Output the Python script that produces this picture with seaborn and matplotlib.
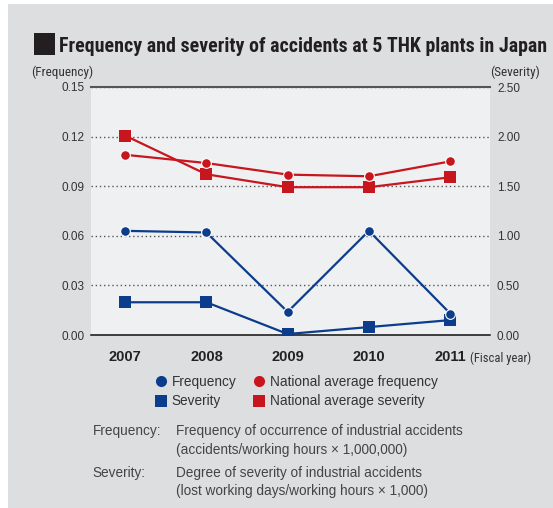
import numpy as np
import pandas as pd
import matplotlib
matplotlib.use("Agg")
import matplotlib.pyplot as plt
import seaborn as sns
from matplotlib import font_manager as fm
from matplotlib.lines import Line2D
from matplotlib.patches import Rectangle

# ---------------- data ----------------
years = [2007, 2008, 2009, 2010, 2011]
year_labels = ["2007", "2008", "2009", "2010", "2011"]
frequency = [0.063, 0.062, 0.014, 0.063, 0.013]
national_frequency = [0.109, 0.104, 0.097, 0.096, 0.105]
severity = [0.33, 0.33, 0.01, 0.08, 0.15]
national_severity = [2.01, 1.62, 1.49, 1.49, 1.59]
freq_ticks = [0.00, 0.03, 0.06, 0.09, 0.12, 0.15]
sev_ticks = [0.00, 0.50, 1.00, 1.50, 2.00, 2.50]
legend_labels = ["Frequency", "Severity", "National average frequency", "National average severity"]
title = "Frequency and severity of accidents at 5 THK plants in Japan"
notes = [
    ("Frequency:", "Frequency of occurrence of industrial accidents", "(accidents/working hours \u00d7 1,000,000)"),
    ("Severity:", "Degree of severity of industrial accidents", "(lost working days/working hours \u00d7 1,000)"),
]

# ---------------- style ----------------
BLUE = "#0b3d8c"
RED = "#c8161e"
OUTER = "#dddee0"
INNER = "#eff0f2"
TXT = "#333333"

names = {f.name for f in fm.fontManager.ttflist}
def pick(cands):
    for c in cands:
        if c in names:
            return c
    return "Liberation Sans"
COND = pick(["Liberation Sans Narrow", "DejaVu Sans Condensed", "Roboto Condensed",
             "Open Sans Condensed", "Liberation Sans"])
SANS = pick(["Liberation Sans", "DejaVu Sans"])

sns.set_style("white")
plt.rcParams["font.family"] = [SANS, "DejaVu Sans"]

W, H = 553, 508
fig = plt.figure(figsize=(W / 100, H / 100), dpi=100, facecolor="white")
def fx(px):
    return px / W
def fy(py):
    return 1 - py / H

fig.patches.append(Rectangle((fx(8), 0), 1 - fx(8), fy(4), transform=fig.transFigure,
                             facecolor=OUTER, edgecolor="none", zorder=-10))
fig.patches.append(Rectangle((fx(34), fy(55)), fx(55) - fx(34), fy(33) - fy(55),
                             transform=fig.transFigure, facecolor="#231f20",
                             edgecolor="none", zorder=1))

ax_sev = fig.add_axes([fx(91), fy(335), fx(490) - fx(91), fy(87) - fy(335)])
ax_sev.set_facecolor(INNER)
ax_f = ax_sev.twinx()
ax_sev.yaxis.tick_right()
ax_f.yaxis.tick_left()

# gridlines on the bottom axis
ax_sev.set_ylim(0, 2.5)
ax_sev.set_yticks(sev_ticks, [f"{v:.2f}" for v in sev_ticks])
ax_sev.grid(axis="y", color="#555555", linestyle=(0, (1, 2)), linewidth=1.0)
ax_sev.grid(axis="x", visible=False)
ax_sev.set_axisbelow(True)

# severity series (right axis)
sns.lineplot(x=years, y=national_severity, ax=ax_sev, color=RED, marker="s",
             markersize=8.8, linewidth=1.6, markeredgewidth=0, zorder=3)
sns.lineplot(x=years, y=severity, ax=ax_sev, color=BLUE, marker="s",
             markersize=8.8, linewidth=1.6, markeredgewidth=0, zorder=3)

# frequency series (left axis)
ax_f.set_ylim(0, 0.15)
ax_f.set_yticks(freq_ticks, [f"{v:.2f}" for v in freq_ticks])
sns.lineplot(x=years, y=national_frequency, ax=ax_f, color=RED, marker="o",
             markersize=7.0, linewidth=1.6, markeredgecolor="white",
             markeredgewidth=0.8, zorder=3)
sns.lineplot(x=years, y=frequency, ax=ax_f, color=BLUE, marker="o",
             markersize=7.0, linewidth=1.6, markeredgecolor="white",
             markeredgewidth=0.8, zorder=3)
ax_f.grid(False)

ax_sev.set_xlim(2007 - 0.42, 2011 + 0.49)
ax_sev.set_xticks(years, year_labels)

for a in (ax_sev, ax_f):
    a.set_xlabel("")
    a.set_ylabel("")
    a.spines["left"].set_visible(False)
    a.spines["right"].set_visible(False)
for s in ("top", "bottom"):
    ax_f.spines[s].set_visible(False)
ax_sev.spines["top"].set_color("#555555")
ax_sev.spines["top"].set_linewidth(1.5)
ax_sev.spines["bottom"].set_color("#111111")
ax_sev.spines["bottom"].set_linewidth(1.1)
for s in ("top", "bottom"):
    ax_sev.spines[s].set_zorder(1)

ax_sev.tick_params(axis="y", length=0, pad=5, labelsize=8.5, labelcolor=TXT)
ax_f.tick_params(axis="y", length=0, pad=4.5, labelsize=8.5, labelcolor=TXT)
ax_sev.tick_params(axis="x", length=0, pad=11, labelsize=10.5, labelcolor="#222222")
for lab in ax_sev.get_xticklabels():
    lab.set_fontweight("bold")

# legend
handles = [
    Line2D([], [], linestyle="none", marker="o", markersize=8, color=BLUE, markeredgewidth=0),
    Line2D([], [], linestyle="none", marker="s", markersize=9, color=BLUE, markeredgewidth=0),
    Line2D([], [], linestyle="none", marker="o", markersize=8, color=RED, markeredgewidth=0),
    Line2D([], [], linestyle="none", marker="s", markersize=9, color=RED, markeredgewidth=0),
]
fig.legend(handles, legend_labels, ncol=2, loc="upper left",
           bbox_to_anchor=(fx(154), fy(375)), frameon=False, fontsize=9.8,
           handlelength=1.0, handletextpad=0.3, columnspacing=1.13,
           labelspacing=0.4, borderpad=0, borderaxespad=0, labelcolor=TXT)

# notes
note_rows = [431.5, 450, 473, 491.5]
for i, (head, l1, l2) in enumerate(notes):
    fig.text(fx(92.5), fy(note_rows[2 * i]), head, fontsize=9.8, color="#444444", va="center")
    fig.text(fx(175.5), fy(note_rows[2 * i]), l1, fontsize=9.8, color="#444444", va="center")
    fig.text(fx(175.5), fy(note_rows[2 * i + 1]), l2, fontsize=9.8, color="#444444", va="center")

# condensed texts
t_title = fig.text(fx(59), fy(52), title, family=COND, fontweight="bold", fontsize=19,
                   color="#231f20", va="baseline", ha="left")
t_fl = fig.text(fx(31), fy(72), "(Frequency)", family=COND, fontsize=8.5, color=TXT,
                va="center", ha="left")
t_sl = fig.text(fx(540), fy(72), "(Severity)", family=COND, fontsize=8.5, color=TXT,
                va="center", ha="right")
t_fy = fig.text(fx(470), fy(358), "(Fiscal year)", family=COND, fontsize=8.5, color=TXT,
                va="center", ha="left")

fig.canvas.draw()
renderer = fig.canvas.get_renderer()
def fit(t, width_px, maxsize):
    bb = t.get_window_extent(renderer)
    t.set_fontsize(min(maxsize, t.get_fontsize() * width_px / bb.width))
fit(t_title, 486, 19)
fit(t_fl, 62, 9.5)
fit(t_sl, 50, 9.5)
fit(t_fy, 61, 9.5)

fig.savefig("out.png", dpi=100, facecolor="white")
